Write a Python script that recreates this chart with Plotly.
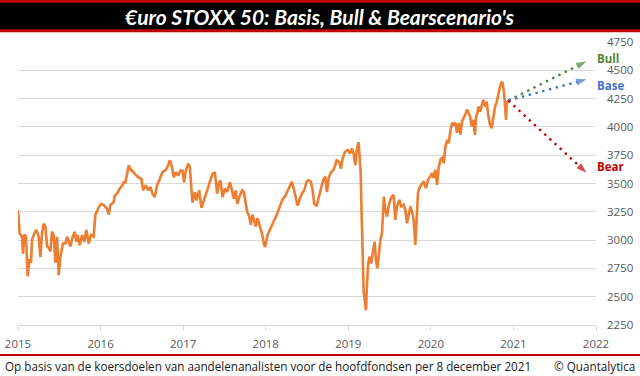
import plotly.graph_objects as go

# ---------------- data ----------------
years = [
    2015.000, 2015.020, 2015.048, 2015.061, 2015.077, 2015.097, 2015.117, 2015.141, 2015.158, 2015.170,
    2015.198, 2015.222, 2015.251, 2015.271, 2015.291, 2015.311, 2015.331, 2015.352, 2015.372, 2015.392,
    2015.412, 2015.432, 2015.453, 2015.473, 2015.493, 2015.513, 2015.545, 2015.574, 2015.594, 2015.614,
    2015.634, 2015.663, 2015.687, 2015.707, 2015.723, 2015.747, 2015.776, 2015.804, 2015.828, 2015.857,
    2015.885, 2015.917, 2015.937, 2015.978, 2016.006, 2016.038, 2016.079, 2016.099, 2016.119, 2016.160,
    2016.172, 2016.200, 2016.232, 2016.261, 2016.281, 2016.301, 2016.321, 2016.341, 2016.370, 2016.386,
    2016.414, 2016.455, 2016.495, 2016.515, 2016.547, 2016.576, 2016.604, 2016.628, 2016.657, 2016.685,
    2016.717, 2016.749, 2016.790, 2016.818, 2016.838, 2016.859, 2016.887, 2016.911, 2016.939, 2016.968,
    2016.992, 2017.012, 2017.032, 2017.061, 2017.081, 2017.101, 2017.113, 2017.141, 2017.162, 2017.194,
    2017.222, 2017.251, 2017.283, 2017.323, 2017.356, 2017.384, 2017.412, 2017.436, 2017.453, 2017.477,
    2017.505, 2017.533, 2017.566, 2017.586, 2017.614, 2017.638, 2017.655, 2017.687, 2017.715, 2017.735,
    2017.756, 2017.776, 2017.800, 2017.820, 2017.840, 2017.861, 2017.881, 2017.901, 2017.929, 2017.954,
    2017.982, 2017.994, 2018.022, 2018.051, 2018.083, 2018.115, 2018.143, 2018.172, 2018.204, 2018.236,
    2018.265, 2018.293, 2018.317, 2018.345, 2018.366, 2018.386, 2018.414, 2018.438, 2018.467, 2018.495,
    2018.519, 2018.547, 2018.568, 2018.588, 2018.616, 2018.640, 2018.669, 2018.697, 2018.721, 2018.741,
    2018.762, 2018.790, 2018.818, 2018.842, 2018.859, 2018.891, 2018.911, 2018.931, 2018.960, 2018.992,
    2019.020, 2019.044, 2019.065, 2019.085, 2019.105, 2019.125, 2019.133, 2019.150, 2019.158, 2019.174,
    2019.186, 2019.202, 2019.214, 2019.226, 2019.238, 2019.255, 2019.279, 2019.295, 2019.319, 2019.335,
    2019.352, 2019.368, 2019.388, 2019.408, 2019.420, 2019.432, 2019.448, 2019.469, 2019.489, 2019.509,
    2019.529, 2019.549, 2019.570, 2019.590, 2019.618, 2019.642, 2019.671, 2019.691, 2019.711, 2019.731,
    2019.752, 2019.772, 2019.792, 2019.812, 2019.832, 2019.844, 2019.861, 2019.885, 2019.913, 2019.941,
    2019.966, 2019.994, 2020.014, 2020.034, 2020.055, 2020.075, 2020.095, 2020.115, 2020.135, 2020.156,
    2020.176, 2020.196, 2020.216, 2020.236, 2020.257, 2020.277, 2020.297, 2020.317, 2020.337, 2020.358,
    2020.378, 2020.398, 2020.418, 2020.438, 2020.459, 2020.475, 2020.495, 2020.515, 2020.535, 2020.547,
    2020.564, 2020.576, 2020.596, 2020.616, 2020.636, 2020.657, 2020.677, 2020.697, 2020.717, 2020.737,
    2020.758, 2020.778, 2020.798, 2020.818, 2020.838, 2020.859, 2020.871, 2020.887, 2020.899, 2020.911,
    2020.919, 2020.939,
]
stoxx = [
    3265, 3060, 3030, 2880, 3050, 3030, 2680, 2830, 2800, 3005,
    3060, 3090, 3030, 2850, 3060, 3145, 3120, 2945, 2930, 2900,
    3075, 3045, 2800, 3030, 2690, 2850, 2970, 2970, 3030, 2985,
    2945, 3030, 3075, 2985, 3045, 2955, 3045, 2985, 3090, 2970,
    3045, 3030, 3225, 3290, 3320, 3310, 3275, 3225, 3310, 3335,
    3395, 3410, 3455, 3480, 3510, 3510, 3600, 3660, 3615, 3615,
    3585, 3555, 3540, 3440, 3485, 3440, 3470, 3410, 3380, 3485,
    3540, 3600, 3620, 3660, 3705, 3660, 3555, 3600, 3570, 3615,
    3615, 3510, 3615, 3675, 3645, 3455, 3330, 3425, 3350, 3440,
    3285, 3350, 3425, 3515, 3585, 3600, 3410, 3510, 3525, 3380,
    3455, 3425, 3510, 3455, 3365, 3440, 3320, 3395, 3440, 3425,
    3350, 3250, 3210, 3135, 3225, 3165, 3120, 3195, 3120, 3060,
    2955, 2940, 3045, 3090, 3150, 3195, 3240, 3300, 3360, 3390,
    3440, 3485, 3515, 3440, 3380, 3305, 3365, 3410, 3440, 3515,
    3530, 3515, 3440, 3320, 3300, 3380, 3455, 3530, 3560, 3425,
    3545, 3600, 3615, 3660, 3705, 3690, 3630, 3720, 3780, 3795,
    3765, 3810, 3765, 3660, 3810, 3865, 3800, 3600, 3330, 2900,
    2550, 2450, 2380, 2588, 2765, 2853, 2794, 2883, 2986, 2824,
    2750, 2853, 3000, 3060, 3297, 3385, 3267, 3208, 3297, 3356,
    3385, 3400, 3178, 3297, 3356, 3297, 3311, 3267, 3149, 3238,
    3297, 3252, 3178, 2957, 3208, 3415, 3459, 3489, 3518, 3459,
    3533, 3563, 3592, 3548, 3622, 3489, 3637, 3710, 3725, 3681,
    3829, 3873, 3858, 3962, 4035, 4020, 4035, 3947, 4035, 3932,
    4050, 4080, 4109, 4154, 4124, 4091, 4003, 4062, 3930, 4091,
    4121, 4180, 4135, 4194, 4238, 4180, 4224, 4091, 4018, 3988,
    4091, 4180, 4224, 4297, 4356, 4400, 4385, 4297, 4180, 4062,
    4209, 4233,
]

scenario_names = ["Bull", "Base", "Bear"]
scenario_start_year = 2020.939
scenario_start_value = 4233
scenario_end_year = 2021.885
scenario_end_values = [4580, 4420, 3595]
scenario_colors = ["#548235", "#4472C4", "#C00000"]
scenario_label_values = [4600, 4370, 3648]

x_tick_values = [2015, 2016, 2017, 2018, 2019, 2020, 2021, 2022]
x_tick_labels = ["2015", "2016", "2017", "2018", "2019", "2020", "2021", "2022"]
y_tick_values = [2250, 2500, 2750, 3000, 3250, 3500, 3750, 4000, 4250, 4500, 4750]

title_text = "€uro STOXX 50: Basis, Bull & Bearscenario's"
footer_left = "Op basis van de koersdoelen van aandelenanalisten voor de hoofdfondsen per 8 december 2021"
footer_right = "© Quantalytica"

# ---------------- layout helpers ----------------
W, H = 640, 376
ML, MR, MT, MB = 18, 44, 42, 51
PW, PH = W - ML - MR, H - MT - MB


def px(x):
    return (x - ML) / PW


def py(y):
    return (H - MB - y) / PH


fig = go.Figure()

fig.add_trace(go.Scatter(
    x=years, y=stoxx, mode="lines",
    line=dict(color="#ED7D31", width=2.6),
    hoverinfo="skip",
))

for name, end_v, col in zip(scenario_names, scenario_end_values, scenario_colors):
    fig.add_trace(go.Scatter(
        x=[scenario_start_year, scenario_end_year],
        y=[scenario_start_value, end_v],
        mode="lines+markers",
        line=dict(color=col, width=2.4, dash="2.4px,4.6px"),
        marker=dict(symbol=["circle", "arrow"], size=[0, 11], color=col,
                    angleref="previous", line=dict(width=0)),
        name=name, hoverinfo="skip",
    ))

shapes = [
    dict(type="rect", xref="paper", yref="paper", x0=px(0), x1=px(W), y0=py(32.3), y1=py(0),
         fillcolor="#C00000", line=dict(width=0), layer="above"),
    dict(type="rect", xref="paper", yref="paper", x0=px(0), x1=px(W), y0=py(29.3), y1=py(2.7),
         fillcolor="#000000", line=dict(width=0), layer="above"),
    dict(type="line", xref="paper", yref="paper", x0=px(0), x1=px(W), y0=py(355), y1=py(355),
         line=dict(color="#C00000", width=2), layer="above"),
]

annotations = [
    dict(text=f"<b><i>{title_text}</i></b>", xref="paper", yref="paper", x=px(319), y=py(16.5),
         xanchor="center", yanchor="middle", showarrow=False,
         font=dict(family="Lato", size=21, color="#FFFFFF")),
    dict(text=footer_left, xref="paper", yref="paper", x=px(3), y=py(366),
         xanchor="left", yanchor="middle", showarrow=False,
         font=dict(family="Open Sans", size=11.7, color="#1a1a1a")),
    dict(text=footer_right, xref="paper", yref="paper", x=px(637), y=py(366),
         xanchor="right", yanchor="middle", showarrow=False,
         font=dict(family="Open Sans", size=11.7, color="#1a1a1a")),
]
for name, lv, col in zip(scenario_names, scenario_label_values, scenario_colors):
    annotations.append(dict(text=f"<b>{name}</b>", xref="paper", yref="y", x=px(595), y=lv,
                            xanchor="left", yanchor="middle", showarrow=False,
                            font=dict(family="Open Sans", size=11.5, color=col)))

fig.update_layout(
    width=W, height=H,
    autosize=False,
    margin=dict(l=ML, r=MR, t=MT, b=MB, pad=0, autoexpand=False),
    paper_bgcolor="#FFFFFF", plot_bgcolor="#FFFFFF",
    showlegend=False,
    shapes=shapes, annotations=annotations,
    xaxis=dict(range=[2015, 2022], tickvals=x_tick_values, ticktext=x_tick_labels,
               automargin=False,
               showgrid=False, zeroline=False, showline=True, linecolor="#D9D9D9", linewidth=1,
               ticks="outside", ticklen=5, tickcolor="#D9D9D9", tickwidth=1, ticklabelstandoff=3,
               tickfont=dict(family="Open Sans", size=11.5, color="#595959")),
    yaxis=dict(range=[2250, 4750], tickvals=y_tick_values, side="right", automargin=False,
               showgrid=True, gridcolor="#D9D9D9", gridwidth=1, zeroline=False, showline=False,
               ticks="", ticklabelstandoff=10,
               tickfont=dict(family="Open Sans", size=11.5, color="#595959")),
)

fig.write_html("out.html", config={"displayModeBar": False},
               post_script="document.body.style.margin='0px';")
